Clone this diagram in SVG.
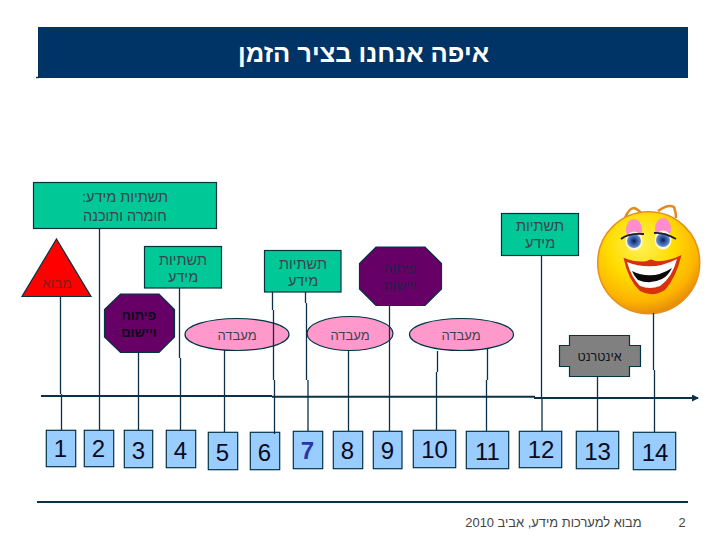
<svg xmlns="http://www.w3.org/2000/svg" width="720" height="540" viewBox="0 0 720 540">
<style>
text{font-family:"Liberation Sans","DejaVu Sans",sans-serif;text-anchor:middle}
.he{direction:rtl;font-size:14.500px;fill:#3a4450}
.shape{stroke:#003344;stroke-width:1.2}
.green{fill:#00c896}
.pink{fill:#ff99cc}
.purple{fill:#660066}
.box{fill:#99ccff;stroke:#003344;stroke-width:1.2}
.num{font-size:24px;fill:#0a0a20}
.lab{font-size:13px}
#connectors path{stroke:#0b3048;stroke-width:1.3;fill:none}
</style>
<defs>
<radialGradient id="face" cx="0.42" cy="0.32" r="0.72">
<stop offset="0" stop-color="#fff25a"/><stop offset="0.45" stop-color="#ffdc00"/><stop offset="0.78" stop-color="#fdb400"/><stop offset="1" stop-color="#dd8210"/>
</radialGradient>
<radialGradient id="iris" cx="0.5" cy="0.5" r="0.5"><stop offset="0" stop-color="#0a1c40"/><stop offset="0.4" stop-color="#2a4f9c"/><stop offset="1" stop-color="#6f93d0"/></radialGradient>
<marker id="head" markerWidth="8" markerHeight="8" refX="6" refY="3.500" orient="auto" markerUnits="userSpaceOnUse"><path d="M0 0L7 3.500L0 7z" fill="#0b3048"/></marker>
</defs>
<rect width="720" height="540" fill="#fff"/>
<g id="title"><rect x="38" y="27" width="650" height="51" fill="#003366"/><path d="M36 77.500h3" stroke="#1a2a3a" stroke-width="1.400"/><text x="363.500" y="62" font-size="25.500" font-weight="bold" fill="#fff" direction="rtl">איפה אנחנו בציר הזמן</text></g>
<g id="n-infra-main"><rect class="shape green" x="33.500" y="182.500" width="183" height="46"/><text class="he" x="125" y="202">תשתיות מידע:</text><text class="he" x="125" y="221">חומרה ותוכנה</text></g>
<g id="n-intro"><path class="shape" d="M56.500 239L91 296.500H22z" fill="#ff0000"/><text class="he" x="57" y="288" style="font-size:13.500px;fill:#8a1818">מבוא</text></g>
<g id="n-infra-4"><rect class="shape green" x="144.500" y="246.500" width="77" height="41.500"/><text class="he" x="183" y="265">תשתיות</text><text class="he" x="183" y="282">מידע</text></g>
<g id="n-infra-6"><rect class="shape green" x="264.500" y="250.500" width="76.500" height="41.500"/><text class="he" x="303" y="269">תשתיות</text><text class="he" x="303" y="286">מידע</text></g>
<g id="n-infra-12"><rect class="shape green" x="501.500" y="213.500" width="77" height="42"/><text class="he" x="540" y="231">תשתיות</text><text class="he" x="540" y="248">מידע</text></g>
<g id="n-dev-3"><path class="shape purple" d="M120.500 294H159L174.500 309.500V337L159 352.500H120.500L104.500 337V309.500z"/><text class="he" x="139" y="320" style="font-size:13px;font-weight:bold;fill:#0a0a1a">פיתוח</text><text class="he" x="139" y="337" style="font-size:13px;font-weight:bold;fill:#0a0a1a">ויישום</text></g>
<g id="n-dev-9"><path class="shape purple" d="M376 247H425L441.500 263.500V289L425 305.500H376L359.500 289V263.500z"/><text class="he" x="400" y="273" style="font-size:13.500px;fill:#25204a">פיתוח</text><text class="he" x="400" y="290" style="font-size:13.500px;fill:#25204a">ויישום</text></g>
<g id="n-lab-5"><ellipse class="shape pink" cx="237" cy="334.500" rx="52" ry="16"/><text class="he lab" x="237" y="340">מעבדה</text></g>
<g id="n-lab-8"><ellipse class="shape pink" cx="350" cy="333.500" rx="43" ry="17"/><text class="he lab" x="350" y="340">מעבדה</text></g>
<g id="n-lab-11"><ellipse class="shape pink" cx="461.500" cy="334.500" rx="52" ry="16"/><text class="he lab" x="461" y="340">מעבדה</text></g>
<g id="n-internet"><path class="shape" fill="#808080" d="M569.500 335.500H629.500V345.500H640.500V366.500H629.500V376.500H569.500V366.500H559.500V345.500H569.500z"/><text class="he" x="599.500" y="361" style="font-size:12.600px;fill:#101418">אינטרנט</text></g>
<g id="n-smiley">
<path d="M625 218Q629 208 634 208Q638 209 642 214M658 211Q668 204 674 207Q676 212 676 218" fill="none" stroke="#e08a20" stroke-width="2.500"/>
<circle cx="648.700" cy="262.700" r="51" fill="url(#face)" stroke="#e8901a" stroke-width="1.500"/>
<ellipse cx="634" cy="230" rx="8" ry="11" fill="#ff8ccc"/><ellipse cx="663" cy="229" rx="8" ry="11" fill="#ff8ccc"/>
<ellipse cx="634" cy="241" rx="8.500" ry="9.500" fill="#fff8d8"/><ellipse cx="663" cy="240" rx="8.500" ry="9.500" fill="#fff8d8"/>
<circle cx="634" cy="241" r="7" fill="url(#iris)"/><circle cx="663" cy="240" r="7" fill="url(#iris)"/>
<path d="M621 239Q628 233 644 234M654 233Q664 232 676 239" fill="none" stroke="#1a1a2a" stroke-width="1.800"/>
<path d="M623.500 257.700Q637 263 647 261Q651 258 655 261Q668 262 681.500 255Q676 278 665 290Q652 298 640 291Q628 280 623.500 257.700z" fill="#d8300a"/>
<path d="M627 262Q652 272 677 259Q672 278 660 286Q650 290 640 286Q631 277 627 262z" fill="#fff"/>
<path d="M632 271Q652 281 672 268Q668 276 662 279Q650 285 638 280Q634 276 632 271z" fill="#0a0a0a"/>
</g>
<g id="n1"><rect class="box" x="46.300" y="430.300" width="29.400" height="36.400"/><text class="num" x="60.500" y="457">1</text></g>
<g id="n2"><rect class="box" x="84.300" y="430.300" width="29.400" height="36.400"/><text class="num" x="98.500" y="457">2</text></g>
<g id="n3"><rect class="box" x="124.300" y="430.300" width="28.400" height="37.400"/><text class="num" x="138.500" y="458.500">3</text></g>
<g id="n4"><rect class="box" x="166.300" y="430.300" width="29.400" height="37.400"/><text class="num" x="180.500" y="458.500">4</text></g>
<g id="n5"><rect class="box" x="208.300" y="432.300" width="29.400" height="37.400"/><text class="num" x="222.500" y="460.500">5</text></g>
<g id="n6"><rect class="box" x="250.300" y="432.300" width="29.400" height="37.400"/><text class="num" x="264.500" y="460.500">6</text></g>
<g id="n7"><rect class="box" x="293.300" y="431.300" width="29.400" height="37.400"/><text class="num" x="307.500" y="459" font-weight="bold" style="fill:#2c35a8">7</text></g>
<g id="n8"><rect class="box" x="333.300" y="431.300" width="29.400" height="37.400"/><text class="num" x="347.500" y="459">8</text></g>
<g id="n9"><rect class="box" x="373.300" y="431.300" width="28.700" height="37.400"/><text class="num" x="387.500" y="459">9</text></g>
<g id="n10"><rect class="box" x="413.300" y="430.300" width="42.400" height="37.400"/><text class="num" x="434.500" y="458">10</text></g>
<g id="n11"><rect class="box" x="466.300" y="431.300" width="42.400" height="37.400"/><text class="num" x="487.500" y="459.500">11</text></g>
<g id="n12"><rect class="box" x="519.300" y="431.300" width="42.400" height="36.400"/><text class="num" x="541" y="458">12</text></g>
<g id="n13"><rect class="box" x="576.300" y="431.300" width="42.400" height="37.400"/><text class="num" x="597.500" y="459.500">13</text></g>
<g id="n14"><rect class="box" x="633.300" y="432.300" width="42.400" height="37.400"/><text class="num" x="655" y="460.500">14</text></g>
<g id="connectors">
<path d="M60.500 296.500V394M61.500 394V430"/>
<path d="M99.500 228.500V430"/>
<path d="M138.500 352.500V430"/>
<path d="M179.500 288V358M180.500 358V431"/>
<path d="M224.500 350V432"/>
<path d="M272.500 292V310M273.500 310V380M274.500 380V434"/>
<path d="M305.500 292V303M306.500 303V380M308 380V431"/>
<path d="M348.500 350V431"/>
<path d="M389.500 305V431"/>
<path d="M437.500 351V372M436.500 372V430"/>
<path d="M487.500 348V380M486.500 380V431"/>
<path d="M541.500 255V397M542 397V431"/>
<path d="M597.500 376V431"/>
<path d="M653.500 313V370M654.500 370V432"/>
<path d="M41 396H272" style="stroke-width:2"/>
<path d="M272 396.800H535" style="stroke-width:2"/>
<path d="M534 398H698" style="stroke-width:2" marker-end="url(#head)"/>
<path d="M37 502H688" style="stroke-width:2"/>
</g>
<g id="footer"><text x="641.700" y="526.500" font-size="12.900" fill="#444" direction="rtl" style="text-anchor:start">מבוא למערכות מידע, אביב 2010</text><text x="682" y="526.500" font-size="12.900" fill="#444">2</text></g>
</svg>
